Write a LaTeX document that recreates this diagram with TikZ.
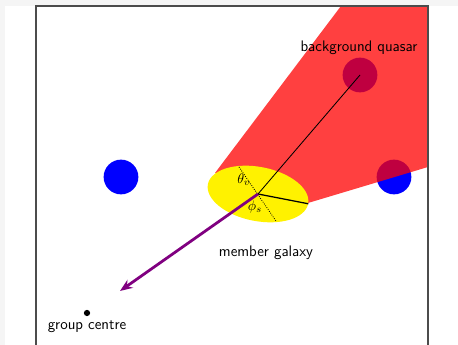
\documentclass[tikz,border=0pt]{standalone}
\usepackage{amsmath,amssymb}
\usepackage{xcolor}
\usepackage{tikz}
\usetikzlibrary{arrows.meta,positioning,shapes.geometric,calc}
\definecolor{galpurple}{RGB}{128,0,128}
\tikzset{
  blob/.style={draw=none, circle, fill=blue, inner sep=0pt, minimum size=25pt},
  galaxy/.style={draw=none, ellipse, fill=yellow, inner sep=0pt, minimum width=73.5pt, minimum height=39pt, rotate=-11},
  lbl/.style={font=\sffamily\fontsize{11}{13}\selectfont, inner sep=1pt},
  ang/.style={font=\normalsize, inner sep=0pt},
  arr/.style={-{Stealth[length=9pt,width=7pt]}, line width=2pt, galpurple},
  cone/.style={fill=red, fill opacity=0.75, draw=none}
}
\begin{document}
\begin{tikzpicture}[x=0.72pt,y=0.72pt]
\useasboundingbox (0,0) rectangle (458,345);
\fill[gray!8] (0,0) rectangle (458,345);
\fill[white] (5,0) rectangle (458,339);

\node[blob] (left) at (121,168) {};
\node[blob] (right) at (394,168) {};
\node[blob] (quasar) at (360,270) {};

\coordinate (conetop) at (215,172);
\coordinate (conebot) at (308,142);
\begin{scope}
\clip (36,-10) rectangle (428,339);
\fill[cone] (conetop) -- ($(conetop)!1.6!(341,339)$) -- (560,400) -- ($(conebot)!2!(428,178)$) -- (conebot) -- cycle;
\end{scope}

\node[galaxy] (gal) at (258,151) {};
\coordinate (dtop) at (239,178);
\coordinate (dbot) at (276,124);
\coordinate (tip) at (120,54);

\draw[densely dotted, line width=0.6pt] (dtop) -- (dbot);
\draw[line width=0.6pt] (gal.center) -- (quasar.center);
\draw[line width=0.9pt] (gal.center) -- (gal.east);
\node[ang] (theta) at (244,165) {$\theta_v$};
\node[ang] (phi) at (255,138) {$\phi_s$};

\draw[arr] (gal.center) -- (tip);

\node[circle, fill=black, inner sep=0pt, minimum size=4.5pt] (centre) at (87,32) {};
\node[lbl] (centrelbl) at (87,18) {group centre};
\node[lbl] (gallbl) at (266,92) {member galaxy};
\node[lbl] (quasarlbl) at (359,297) {background quasar};

\draw[gray!60!black, line width=1.1pt] (36,-10) rectangle (428,339);
\end{tikzpicture}
\end{document}
